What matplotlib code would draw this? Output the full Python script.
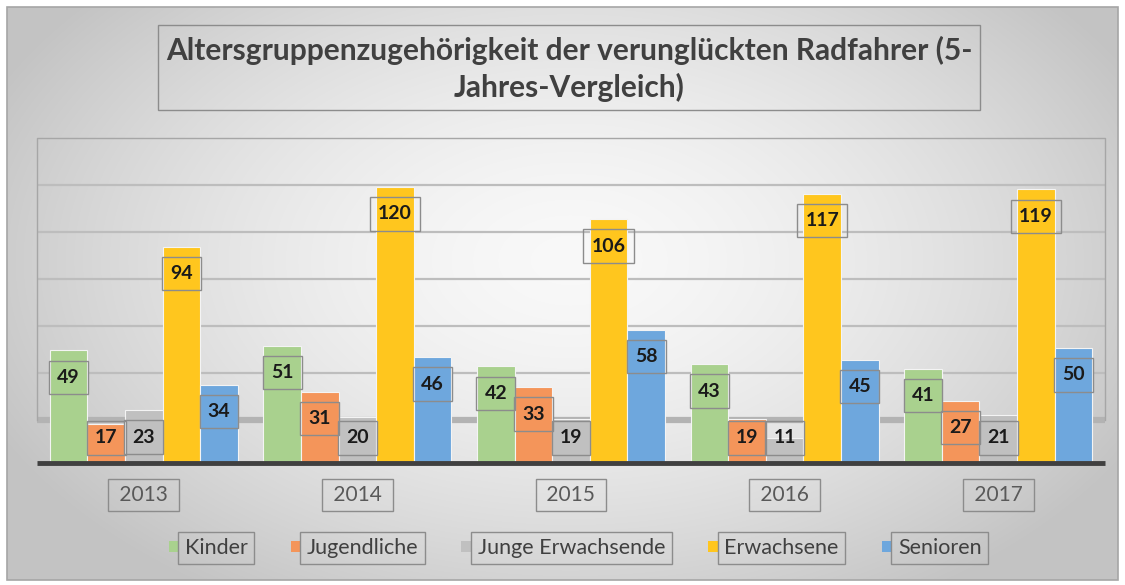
import matplotlib
matplotlib.use("Agg")
import matplotlib.pyplot as plt
import numpy as np
from matplotlib.patches import Rectangle, Patch

# data
years = ['2013', '2014', '2015', '2016', '2017']
groups = ['Kinder', 'Jugendliche', 'Junge Erwachsende', 'Erwachsene', 'Senioren']
kinder = [49, 51, 42, 43, 41]
jugendliche = [17, 31, 33, 19, 27]
junge_erw = [23, 20, 19, 11, 21]
erwachsene = [94, 120, 106, 117, 119]
senioren = [34, 46, 58, 45, 50]
series = [kinder, jugendliche, junge_erw, erwachsene, senioren]
colors = ['#a9d18e', '#f4955a', '#c0c0c0', '#ffc61e', '#6ea7dd']

title = 'Altersgruppenzugehörigkeit der verunglückten Radfahrer (5-\nJahres-Vergleich)'

plt.rcParams['font.family'] = ['Lato', 'DejaVu Sans']

W, H = 1125, 585
fig = plt.figure(figsize=(W / 100, H / 100), dpi=100)
fig.patch.set_facecolor('white')

# background: radial grey gradient inside a thin frame
bg = fig.add_axes([0, 0, 1, 1], zorder=-10)
bg.set_xlim(0, W)
bg.set_ylim(H, 0)
bg.axis('off')
yy, xx = np.mgrid[7:580, 7:1118]
r = np.sqrt(((xx - 570) / 640.0) ** 2 + ((yy - 260) / 400.0) ** 2)
r = np.clip(r, 0, 1)
shade = 0.975 - 0.21 * r ** 1.6
bg.imshow(np.dstack([shade] * 3), extent=[7, 1118, 580, 7], aspect='auto')
bg.add_patch(Rectangle((7, 7), 1111, 573, fill=False, ec='#a6a6a6', lw=1.2))

# title box
bg.add_patch(Rectangle((158, 25), 822, 85, fill=False, ec='#8c8c8c', lw=1))
bg.text(569, 69, title, ha='center', va='center', fontsize=21.5, fontweight='bold',
        color='#404040', linespacing=1.3)

# plot area
px_per_unit = 2.3
ax = fig.add_axes([37 / W, 1 - 463 / H, (1105 - 37) / W, (463 - 138) / H])
ax.set_xlim(-0.5, 4.5)
ax.set_ylim(0, 325 / px_per_unit)
ax.axis('off')

# back wall (3d look): floor edge + gridlines
wall_base = 18.7
wall_step = 20.4
top = 325 / px_per_unit
ax.plot([-0.5, 4.5], [wall_base, wall_base], color='#b3b3b3', lw=4.5, zorder=1,
        solid_capstyle='butt')
for k in range(1, 6):
    yv = wall_base + k * wall_step
    ax.plot([-0.5, 4.5], [yv, yv], color='#bdbdbd', lw=1.6, zorder=1)
ax.plot([-0.5, -0.5, 4.5, 4.5], [wall_base, top, top, wall_base], color='#a6a6a6',
        lw=1, zorder=1, clip_on=False)

x = np.arange(len(years))
bw = 0.176
for i, (vals, c) in enumerate(zip(series, colors)):
    xs = x + (i - 2) * bw
    ax.bar(xs, vals, width=bw, color=c, edgecolor='#f4f4f4', linewidth=0.8, zorder=3)
    for xi, v in zip(xs, vals):
        ly = max(v - 11.7, 10.9)
        ax.text(xi, ly, str(v), ha='center', va='center', fontsize=14,
                fontweight='bold', color='#1a1a1a', zorder=6,
                bbox=dict(boxstyle='square,pad=0.42', fc='none', ec='#8c8c8c', lw=1))

# front baseline
ax.plot([-0.5, 4.5], [0, 0], color='#404040', lw=3.5, zorder=5, clip_on=False,
        solid_capstyle='butt')

# category labels in boxes
for xi, yr in zip(x, years):
    ax.text(xi, -32 / 325, ' ' + yr + ' ', transform=ax.get_xaxis_transform(),
            ha='center', va='center', fontsize=15, color='#595959',
            bbox=dict(boxstyle='square,pad=0.28', fc='none', ec='#8c8c8c', lw=1))

# legend
handles = [Patch(fc=c, ec='none') for c in colors]
leg = fig.legend(handles, groups, loc='center', bbox_to_anchor=(575 / W, 1 - 548 / H),
                 ncol=5, frameon=False, handlelength=0.45, handleheight=0.45,
                 handletextpad=0.3, columnspacing=2.0, fontsize=15.5)
for t in leg.get_texts():
    t.set_color('#404040')
    t.set_bbox(dict(boxstyle='square,pad=0.3', fc='none', ec='#8c8c8c', lw=1))

fig.savefig('out.png', dpi=100)
